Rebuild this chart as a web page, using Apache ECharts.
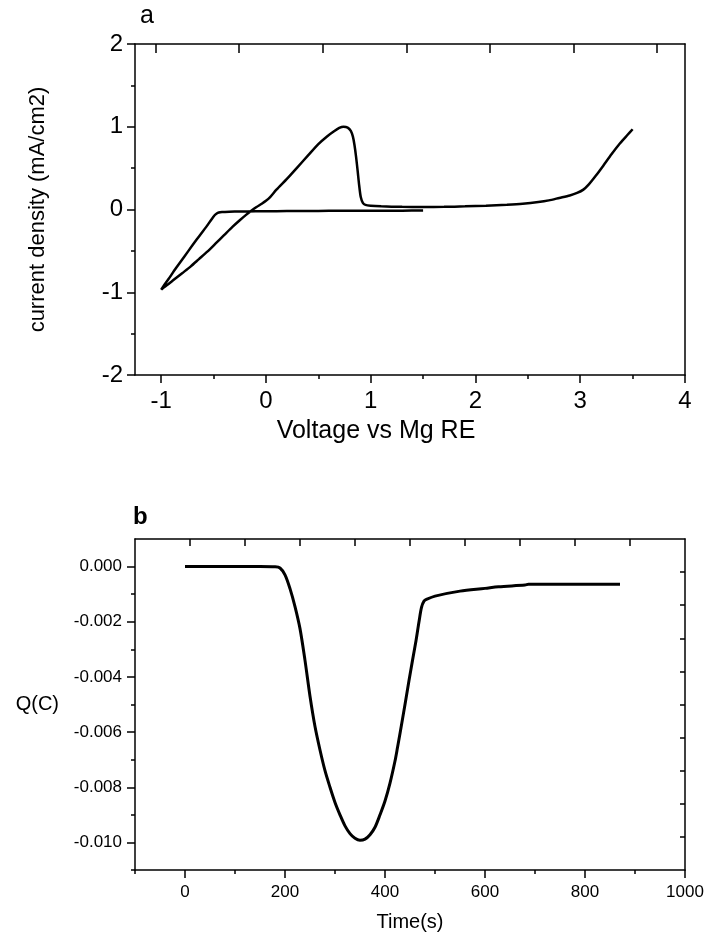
<!DOCTYPE html>
<html><head><meta charset="utf-8">
<script src="https://cdn.jsdelivr.net/npm/echarts@6/dist/echarts.min.js"></script>
<style>html,body{margin:0;padding:0;background:#fff}#chart{width:708px;height:938px}</style>
</head><body><div id="chart"></div>
<script>
// ---- Panel a: current density vs voltage ----
const cvVoltage = [1.5, 1.3, 1.1, 0.9, 0.7, 0.5, 0.3, 0.1, -0.1, -0.25, -0.35, -0.42, -0.45, -0.47, -0.49, -0.52, -0.57, -0.63, -0.70, -0.78, -0.86, -0.93, -0.98, -1.0,
  -0.98, -0.94, -0.88, -0.8, -0.72, -0.64, -0.56, -0.48, -0.4, -0.32, -0.25, -0.19, -0.14, -0.09, -0.04, 0.0, 0.04, 0.1, 0.2, 0.3, 0.4, 0.5, 0.58, 0.65, 0.7, 0.74, 0.78, 0.81, 0.83, 0.845, 0.86, 0.875, 0.89, 0.905, 0.925, 0.95, 1.0, 1.1, 1.3, 1.5, 1.7, 1.9, 2.1, 2.3, 2.45, 2.6, 2.7, 2.8, 2.9, 2.97, 3.03, 3.08, 3.15, 3.22, 3.3, 3.38, 3.45, 3.5];
const cvCurrent = [-0.012, -0.014, -0.015, -0.015, -0.016, -0.017, -0.018, -0.02, -0.022, -0.024, -0.026, -0.03, -0.036, -0.048, -0.07, -0.12, -0.21, -0.31, -0.43, -0.57, -0.71, -0.84, -0.93, -0.97,
  -0.945, -0.91, -0.85, -0.77, -0.69, -0.6, -0.51, -0.41, -0.31, -0.21, -0.13, -0.065, -0.015, 0.03, 0.07, 0.105, 0.15, 0.24, 0.37, 0.51, 0.65, 0.79, 0.88, 0.945, 0.985, 1.0, 0.99, 0.95, 0.88, 0.78, 0.64, 0.47, 0.29, 0.15, 0.08, 0.055, 0.045, 0.038, 0.032, 0.03, 0.032, 0.038, 0.046, 0.058, 0.07, 0.09, 0.11, 0.14, 0.17, 0.2, 0.24, 0.3, 0.41, 0.53, 0.67, 0.8, 0.9, 0.97];
const aXLabels = [-1, 0, 1, 2, 3, 4];
const aXMinor = [-0.5, 0.5, 1.5, 2.5, 3.5];
const aYLabels = [-2, -1, 0, 1, 2];
const aYMinor = [-1.5, -0.5, 0.5, 1.5];
const aTopTicks = [-1.056, -0.256, 0.541, 1.341, 2.137, 2.934, 3.735];

// ---- Panel b: charge vs time ----
const bTime = [0, 50, 100, 150, 180, 190, 200, 210, 220, 230, 240, 250, 260, 270, 280, 290, 300, 310, 320, 330, 340, 350, 360, 370, 380, 390, 400, 410, 420, 425, 430, 440, 448, 455, 462, 468, 473, 478, 484, 500, 550, 600, 627, 680, 687, 750, 870];
const bCharge = [0, 0, 0, 0, -0.00001, -0.00005, -0.0003, -0.0008, -0.00145, -0.00225, -0.0034, -0.0047, -0.0058, -0.00665, -0.0074, -0.008, -0.00855, -0.009, -0.0094, -0.00968, -0.00985, -0.00992, -0.00988, -0.00972, -0.00945, -0.009, -0.0085, -0.00785, -0.00705, -0.00656, -0.00605, -0.005, -0.00413, -0.0034, -0.00269, -0.002, -0.00148, -0.00125, -0.00118, -0.00107, -0.00089, -0.00079, -0.00073, -0.00067, -0.00064, -0.00064, -0.00064];
const bXLabels = [0, 200, 400, 600, 800, 1000];
const bXMinor = [-100, 100, 300, 500, 700, 900];
const bYLabels = [0, -0.002, -0.004, -0.006, -0.008, -0.010];
const bYMinor = [-0.001, -0.003, -0.005, -0.007, -0.009, -0.011];
const bTopTicks = [10, 120, 230, 340, 450, 560, 670, 780, 890];
const bRightTicks = [-0.0002, -0.0014, -0.0026, -0.0038, -0.005, -0.0062, -0.0074, -0.0086, -0.0098];

const FONT = '"Liberation Sans", Arial, sans-serif';
const lineStyle = {color: '#000', width: 1.5};

function frameAxis(extra) {
  return Object.assign({
    type: 'value', axisLine: {show: true, onZero: false, lineStyle: lineStyle},
    axisTick: {show: false}, axisLabel: {show: false}, splitLine: {show: false}
  }, extra);
}
function tickAxis(extra, ticks, len, inside) {
  return Object.assign({
    type: 'value', axisLine: {show: false, onZero: false},
    axisTick: {show: true, customValues: ticks, length: len, inside: !!inside, lineStyle: lineStyle},
    axisLabel: {show: false}, splitLine: {show: false}
  }, extra);
}

const chart = echarts.init(document.getElementById('chart'), null, {renderer: 'canvas'});
const option = {
  animation: false,
  backgroundColor: '#fff',
  grid: [
    {left: 135, top: 44, width: 550, height: 331},
    {left: 135, top: 539, width: 550, height: 331}
  ],
  xAxis: [
    {type: 'value', gridIndex: 0, position: 'bottom', min: -1.25, max: 4,
     axisLine: {show: true, onZero: false, lineStyle: lineStyle},
     axisTick: {show: true, customValues: aXLabels, length: 8, lineStyle: lineStyle},
     axisLabel: {show: true, customValues: aXLabels, color: '#000', fontSize: 24, fontFamily: FONT, margin: 14},
     splitLine: {show: false},
     name: 'Voltage vs Mg RE', nameLocation: 'middle', nameGap: 44,
     nameTextStyle: {color: '#000', fontSize: 25, fontFamily: FONT, padding: [0, 68, 0, 0]}},
    tickAxis({gridIndex: 0, position: 'bottom', min: -1.25, max: 4}, aXMinor, 4),
    frameAxis({gridIndex: 0, position: 'top', min: -1.25, max: 4,
      axisTick: {show: true, customValues: aTopTicks, length: 9, inside: true, lineStyle: lineStyle}}),
    {type: 'value', gridIndex: 1, position: 'bottom', min: -100, max: 1000,
     axisLine: {show: true, onZero: false, lineStyle: lineStyle},
     axisTick: {show: true, customValues: bXLabels, length: 8, lineStyle: lineStyle},
     axisLabel: {show: true, customValues: bXLabels, color: '#000', fontSize: 17, fontFamily: FONT, margin: 14,
       formatter: function (v) { return String(v); }},
     splitLine: {show: false},
     name: 'Time(s)', nameLocation: 'middle', nameGap: 42,
     nameTextStyle: {color: '#000', fontSize: 20, fontFamily: FONT}},
    tickAxis({gridIndex: 1, position: 'bottom', min: -100, max: 1000}, bXMinor, 4),
    frameAxis({gridIndex: 1, position: 'top', min: -100, max: 1000,
      axisTick: {show: true, customValues: bTopTicks, length: 7, inside: true, lineStyle: lineStyle}})
  ],
  yAxis: [
    {type: 'value', gridIndex: 0, position: 'left', min: -2, max: 2,
     axisLine: {show: true, onZero: false, lineStyle: lineStyle},
     axisTick: {show: true, customValues: aYLabels, length: 8, lineStyle: lineStyle},
     axisLabel: {show: true, customValues: aYLabels, color: '#000', fontSize: 24, fontFamily: FONT, margin: 12},
     splitLine: {show: false},
     name: 'current density (mA/cm2)', nameLocation: 'middle', nameGap: 86,
     nameTextStyle: {color: '#000', fontSize: 22, fontFamily: FONT}},
    tickAxis({gridIndex: 0, position: 'left', min: -2, max: 2}, aYMinor, 4),
    frameAxis({gridIndex: 0, position: 'right', min: -2, max: 2}),
    {type: 'value', gridIndex: 1, position: 'left', min: -0.011, max: 0.001,
     axisLine: {show: true, onZero: false, lineStyle: lineStyle},
     axisTick: {show: true, customValues: bYLabels, length: 8, lineStyle: lineStyle},
     axisLabel: {show: true, customValues: bYLabels, color: '#000', fontSize: 17, fontFamily: FONT, margin: 13,
       formatter: function (v) { return (Math.abs(v) < 1e-12 ? 0 : v).toFixed(3); }},
     splitLine: {show: false},
     name: 'Q(C)', nameLocation: 'middle', nameRotate: 0, nameGap: 76,
     nameTextStyle: {color: '#000', fontSize: 20, fontFamily: FONT}},
    tickAxis({gridIndex: 1, position: 'left', min: -0.011, max: 0.001}, bYMinor, 4),
    frameAxis({gridIndex: 1, position: 'right', min: -0.011, max: 0.001,
      axisTick: {show: true, customValues: bRightTicks, length: 5, inside: true, lineStyle: lineStyle}})
  ],
  graphic: [
    {type: 'text', left: 140, top: 4, style: {text: 'a', fontSize: 25, fontFamily: FONT, fill: '#000'}},
    {type: 'text', left: 133, top: 505, style: {text: 'b', fontSize: 24, fontWeight: 'bold', fontFamily: FONT, fill: '#000'}}
  ],
  series: [
    {type: 'line', xAxisIndex: 0, yAxisIndex: 0, showSymbol: false, smooth: 0.25,
     lineStyle: {color: '#000', width: 2.5},
     data: cvVoltage.map(function (v, i) { return [v, cvCurrent[i]]; })},
    {type: 'line', xAxisIndex: 3, yAxisIndex: 3, showSymbol: false, smooth: 0.3,
     lineStyle: {color: '#000', width: 3},
     data: bTime.map(function (t, i) { return [t, bCharge[i]]; })}
  ]
};
chart.setOption(option);
</script>
</body></html>
